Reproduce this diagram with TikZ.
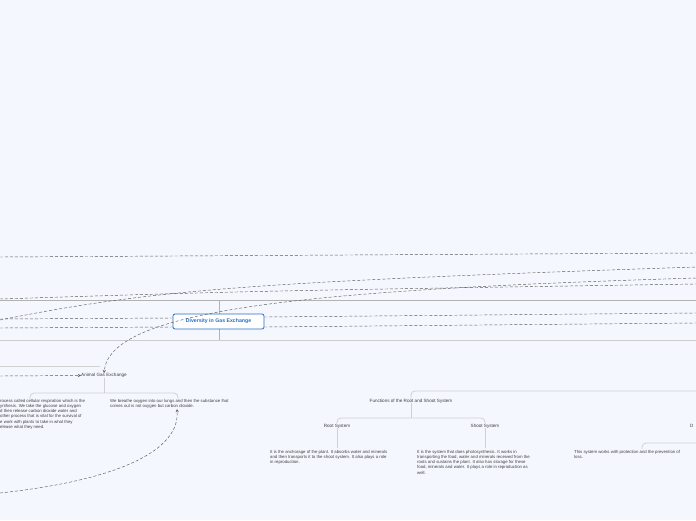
\documentclass[tikz,border=0pt]{standalone}
\usepackage{fontspec}
\setmainfont{Liberation Sans}
\begin{document}
\begin{tikzpicture}[x=1pt,y=-1pt,
  txt/.style={font=\fontsize{4.3}{5.2}\selectfont,text=black!75,inner sep=0pt,align=left},
  lbl/.style={font=\fontsize{4.6}{5.5}\selectfont,text=black!75,inner sep=0pt},
  dsh/.style={densely dashed,draw=black!65,line width=0.45pt},
  br/.style={draw=black!18,line width=0.8pt,rounded corners=4pt},
  gl/.style={draw=black!30,line width=0.6pt}]
\definecolor{bg}{RGB}{244,247,254}
\definecolor{cblue}{RGB}{40,110,200}
\fill[bg] (0,0) rectangle (696,520);
\useasboundingbox (0,0) rectangle (696,520);
\begin{scope}
\clip (0,0) rectangle (696,520);
% gray frame lines
\draw[gl] (0,300) -- (696,300);
\draw[gl,draw=black!20] (0,340) -- (696,340);
\draw[gl] (219,300) -- (219,340);
\draw[br] (0,366) -- (100,366);
% nodes
\node[draw=cblue,line width=0.8pt,fill=white,rounded corners=2pt,minimum width=91pt,minimum height=15pt,inner sep=1pt,text=cblue,font=\fontsize{5.2}{6}\selectfont\bfseries] (root) at (218.5,321.5) {Diversity in Gas Exchange};
\node[lbl] (age) at (104,375.5) {Animal Gas Exchange};
\node[lbl] (frs) at (411,401) {Functions of the Root and Shoot System};
\node[lbl] (rs) at (337,426) {Root System};
\node[lbl] (ss) at (485,426) {Shoot System};
\node[lbl,anchor=west] (dd) at (690,426) {D};
\node[txt,anchor=north west] (we) at (110,399) {We breathe oxygen into our lungs and then the substance that\\comes out is not oxygen but carbon dioxide.};
\node[txt,anchor=north west] (lt) at (0,399) {rocess called cellular respiration which is the\\ynthesis. We take the glucose and oxygen\\d then release carbon dioxide water and\\other process that is vital for the survival of\\e work with plants to take in what they\\elease what they need.};
\node[txt,anchor=north west] (rt) at (270,450) {It is the anchorage of the plant. It absorbs water and minerals\\and then transports it to the shoot system. It also plays a role\\in reproduction.};
\node[txt,anchor=north west] (st) at (417,450) {It is the system that does photosynthesis. It works in\\transporting the food, water and minerals received from the\\roots and sustains the plant. It also has storage for these\\food, minerals and water. It plays a role in reproduction as\\well.};
\node[txt,anchor=north west] (pt) at (574,450) {This system works with protection and the prevention of\\loss.};
% brackets
\draw[br] (age.south) -- (104,393);
\draw[br] (30,399) -- (30,393) -- (178,393) -- (178,399);
\draw[br] (frs.north) -- (411,391) -- (696,391);
\draw[br] (frs.south) -- (411,418);
\draw[br] (337,423) -- (337,418) -- (485,418) -- (485,423);
\draw[br] (rs.south) -- (337,448);
\draw[br] (ss.south) -- (485,448);
\draw[br] (642,449) -- (642,443) -- (696,443);
% dashed connectors
\coordinate (l1) at (0,257); \coordinate (r1) at (696,253);
\draw[dsh] (l1) -- (r1);
\coordinate (l2) at (0,299); \coordinate (r2) at (696,284);
\draw[dsh] (l2) .. controls (250,291) .. (r2);
\coordinate (l3) at (0,320); \coordinate (r3) at (696,267);
\draw[dsh] (l3) .. controls (150,290) and (250,282) .. (r3);
\coordinate (r4) at (696,278);
\draw[dsh,->,>=stealth] (r4) .. controls (300,290) and (110,310) .. (age.north);
\coordinate (l5) at (0,319);
\draw[dsh] (l5) -- (root.west |- 0,318);
\coordinate (l6) at (0,328);
\draw[dsh] (l6) -- (root.west |- 0,327);
\coordinate (r7) at (696,313);
\draw[dsh] (root.east |- 0,317) -- (r7);
\coordinate (r8) at (696,323);
\draw[dsh] (root.east |- 0,327) -- (r8);
\coordinate (l9) at (0,376);
\draw[dsh,->,>=stealth] (l9) -- (age.west);
\coordinate (l10) at (0,493);
\draw[dsh,->,>=stealth] (l10) .. controls (120,480) and (180,450) .. (177,409);
\end{scope}
\end{tikzpicture}
\end{document}
